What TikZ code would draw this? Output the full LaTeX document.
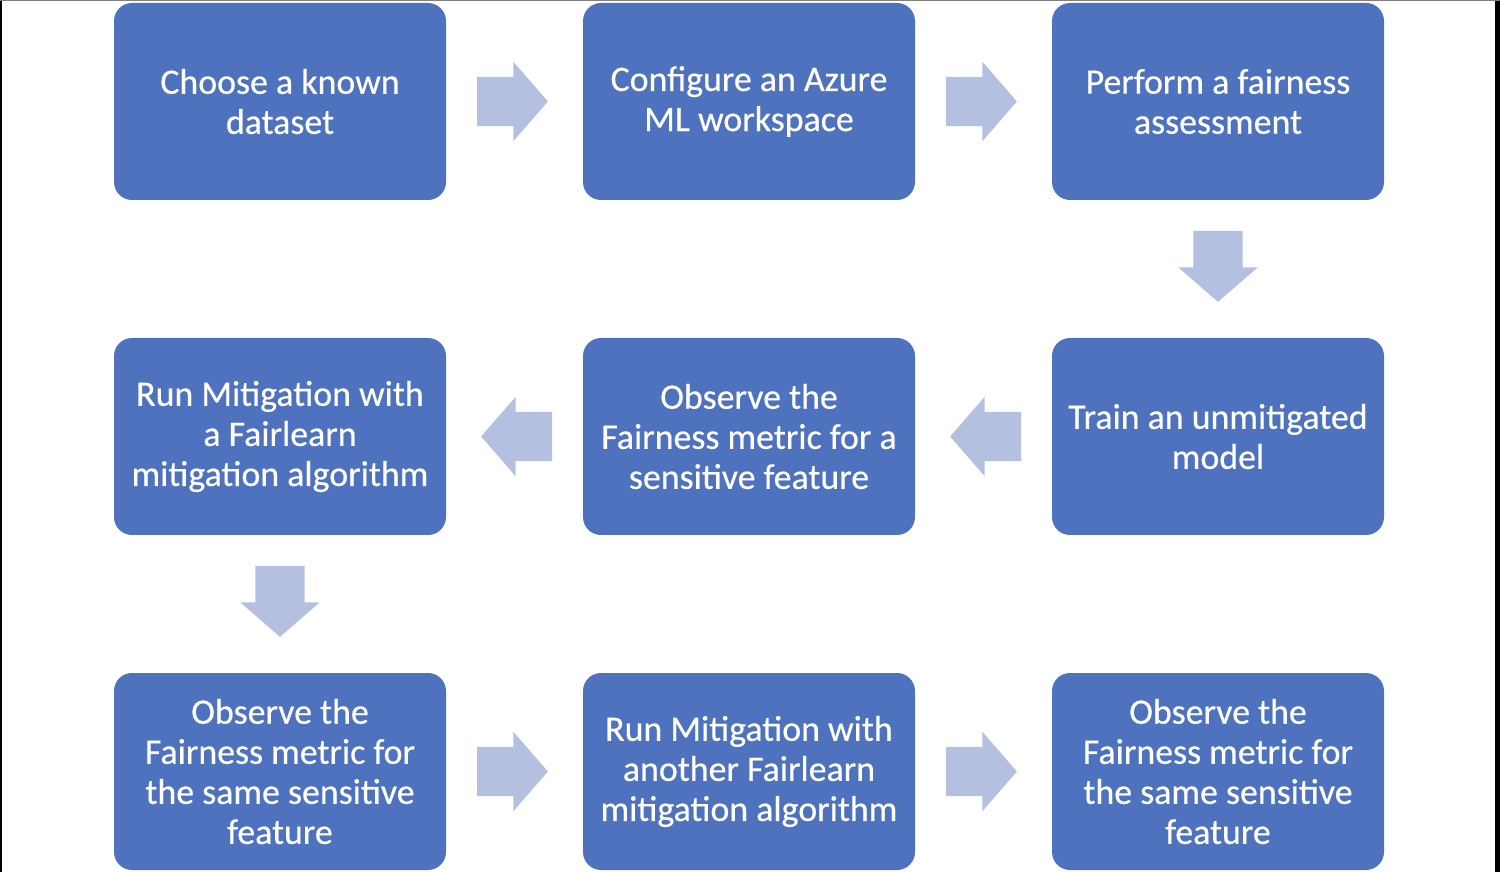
\documentclass[tikz,border=0pt]{standalone}
\usepackage{fontspec}
\setmainfont{Carlito}
\usetikzlibrary{positioning,shapes.arrows,calc}
\definecolor{stepblue}{RGB}{79,114,190}
\definecolor{arrowblue}{RGB}{180,192,224}
\tikzset{%
  stepbox/.style={fill=stepblue, rounded corners=0.18cm, minimum width=3.32cm,
  minimum height=1.97cm, text=white, align=center, inner sep=0pt, outer sep=0pt,
  font=\fontsize{10.2}{11.4}\selectfont\addfontfeature{FakeBold=0.4}},%
  flowarrow/.style={single arrow, fill=arrowblue, inner sep=0.24cm, outer sep=0pt,
  minimum height=0.7cm, single arrow head extend=0.15cm,
  single arrow tip angle=98, anchor=tail}%
}

\begin{document}
\begin{tikzpicture}[node distance=1.38cm and 1.37cm] % fairness workflow

    \def\gap{0.31cm} % space between box and arrow tail
    \useasboundingbox (0,0) rectangle (15,-8.72);
    % frame of the screenshot
    \fill[black] (0,0) rectangle (0.02,-8.72);
    \fill[black] (14.95,0) rectangle (15,-8.72);
    \fill[gray] (0,0) rectangle (15,-0.01);

    % row 1
    \node[stepbox] (choose) at (2.80,-1.015) {Choose a known\\dataset};
    \node[stepbox, right=of choose] (config) {Configure an Azure\\ML workspace};
    \node[stepbox, right=of config] (assess) {Perform a fairness\\assessment};

    % row 2
    \node[stepbox, below=of assess] (train) {Train an unmitigated\\model};
    \node[stepbox, left=of train] (observe) {Observe the\\Fairness metric for a\\sensitive feature};
    \node[stepbox, left=of observe] (mitig) {Run Mitigation with\\a Fairlearn\\mitigation algorithm};

    % row 3
    \node[stepbox, below=of mitig] (obssame) {Observe the\\Fairness metric for\\the same sensitive\\feature};
    \node[stepbox, right=of obssame] (mitigb) {Run Mitigation with\\another Fairlearn\\mitigation algorithm};
    \node[stepbox, right=of mitigb] (obsend) {Observe the\\Fairness metric for\\the same sensitive\\feature};

    % block arrows
    \node[flowarrow] (a1) at ([xshift=\gap]choose.east) {};
    \node[flowarrow] (a2) at ([xshift=\gap]config.east) {};
    \node[flowarrow, shape border rotate=270] (a3) at ([yshift=-\gap]assess.south) {};
    \node[flowarrow, shape border rotate=180] (a4) at ([xshift=-\gap]train.west) {};
    \node[flowarrow, shape border rotate=180] (a5) at ([xshift=-\gap]observe.west) {};
    \node[flowarrow, shape border rotate=270] (a6) at ([yshift=-\gap]mitig.south) {};
    \node[flowarrow] (a7) at ([xshift=\gap]obssame.east) {};
    \node[flowarrow] (a8) at ([xshift=\gap]mitigb.east) {};

\end{tikzpicture}
\end{document}
